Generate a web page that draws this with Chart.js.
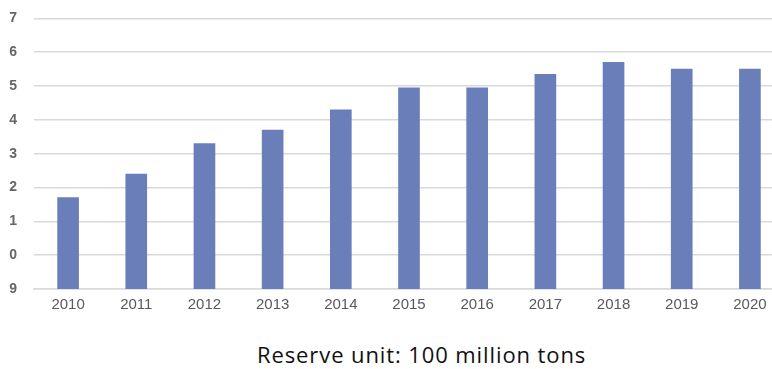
<!DOCTYPE html>
<html>
<head>
<meta charset="utf-8">
<script src="https://cdn.jsdelivr.net/npm/chart.js@4.4.1/dist/chart.umd.min.js"></script>
<style>
  html, body { margin: 0; padding: 0; background: #fff; }
  #frame { position: relative; width: 772px; height: 369px; overflow: hidden; }
  #plot { position: absolute; left: 0; top: -7px; width: 784px; height: 328px; }
  #unit {
    position: absolute; left: 257px; top: 340px;
    font-family: "Open Sans", sans-serif; font-size: 22px; line-height: 28px;
    letter-spacing: 0.9px; color: #111; white-space: nowrap;
  }
</style>
</head>
<body>
<div id="frame">
  <div id="plot"><canvas id="reserves"></canvas></div>
  <div id="unit">Reserve unit: 100 million tons</div>
</div>
<script>
const years = ['2010', '2011', '2012', '2013', '2014', '2015', '2016', '2017', '2018', '2019', '2020']
const reserves = [11.7, 12.4, 13.3, 13.7, 14.3, 14.95, 14.95, 15.35, 15.7, 15.5, 15.5]
const yMin = 9
const yMax = 17

new Chart(document.getElementById('reserves'), {
  type: 'bar',
  data: {
    labels: years,
    datasets: [
      {
        data: reserves,
        backgroundColor: '#6a7eb9',
        barThickness: 21,
      },
    ],
  },
  options: {
    responsive: true,
    maintainAspectRatio: false,
    animation: false,
    layout: { padding: { top: 10, right: 0, bottom: 0, left: 0 } },
    plugins: {
      legend: { display: false },
      tooltip: { enabled: false },
    },
    scales: {
      x: {
        grid: { display: false, drawTicks: false },
        border: { display: true, color: '#d9d9d9', width: 1.5 },
        ticks: {
          color: '#595959',
          padding: 7,
          font: { family: 'Liberation Sans', size: 15 },
        },
      },
      y: {
        min: yMin,
        max: yMax,
        afterFit: (scale) => { scale.width = 34 },
        grid: { color: '#d9d9d9', lineWidth: 1.5, drawTicks: false },
        border: { display: false },
        ticks: {
          stepSize: 1,
          color: '#666',
          padding: 17,
          font: { family: 'Liberation Sans', size: 14, weight: 'bold' },
          // only the last digit of each value shows beside the axis
          callback: (v) => String(v % 10),
        },
      },
    },
  },
})
</script>
</body>
</html>
